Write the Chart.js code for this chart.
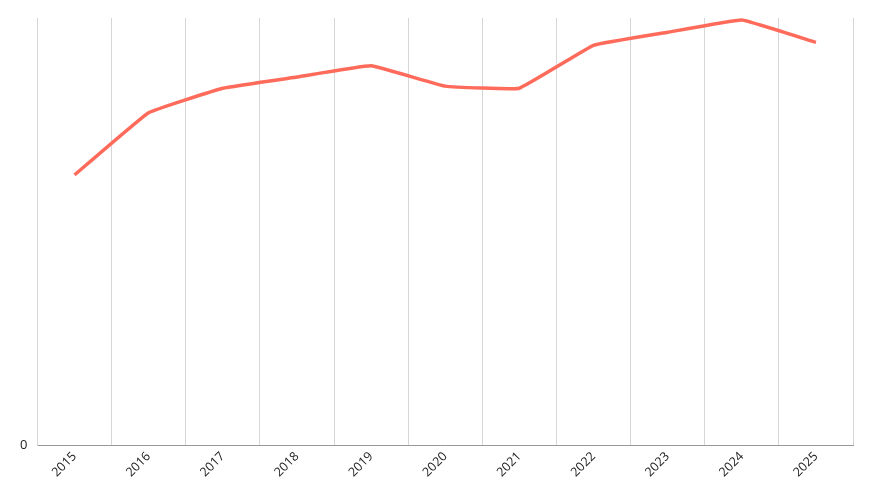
<!DOCTYPE html>
<html>
<head>
<meta charset="utf-8">
<script src="https://cdn.jsdelivr.net/npm/chart.js@4"></script>
<style>
html,body{margin:0;padding:0;background:#fff}
#wrap{width:873px;height:500px}
</style>
</head>
<body>
<div id="wrap"><canvas id="chart"></canvas></div>
<script>
// Data
const years = ["2015","2016","2017","2018","2019","2020","2021","2022","2023","2024","2025"];
const values = [2075000,2553000,2741000,2827000,2913000,2757000,2741000,3070000,3170000,3265000,3093000];

// Indonesian style tick labels
function fmt(v){
  if(v>=1000000) return String(v/1000000).replace(".",",")+"JT";
  return v.toLocaleString("id-ID");
}

const ctx=document.getElementById("chart").getContext("2d");
new Chart(ctx,{
  type:"line",
  data:{
    labels:years,
    datasets:[{data:values, borderColor:"#ff6b5b", borderWidth:3.5, pointRadius:0, tension:0.08, fill:false}]
  },
  options:{
    responsive:true, maintainAspectRatio:false, animation:false,
    layout:{padding:{top:18,right:20,left:10,bottom:16}},
    plugins:{legend:{display:false}, tooltip:{enabled:false}},
    scales:{
      x:{
        offset:true,
        grid:{color:"#d6d6d6", offset:true, drawTicks:false},
        border:{color:"#999"},
        ticks:{color:"#222", font:{family:"Open Sans", size:12.5}, maxRotation:45, minRotation:45, padding:4}
      },
      y:{
        min:0, max:3280000,
        afterBuildTicks:axis=>{ axis.ticks=axis.ticks.filter(t=>t.value%500000===0); },
        grid:{color:"#d6d6d6", drawTicks:false},
        border:{color:"#d6d6d6"},
        ticks:{stepSize:500000, color:"#222", font:{family:"Open Sans", size:13}, padding:10, callback:v=>fmt(v)}
      }
    }
  }
});
</script>
</body>
</html>
